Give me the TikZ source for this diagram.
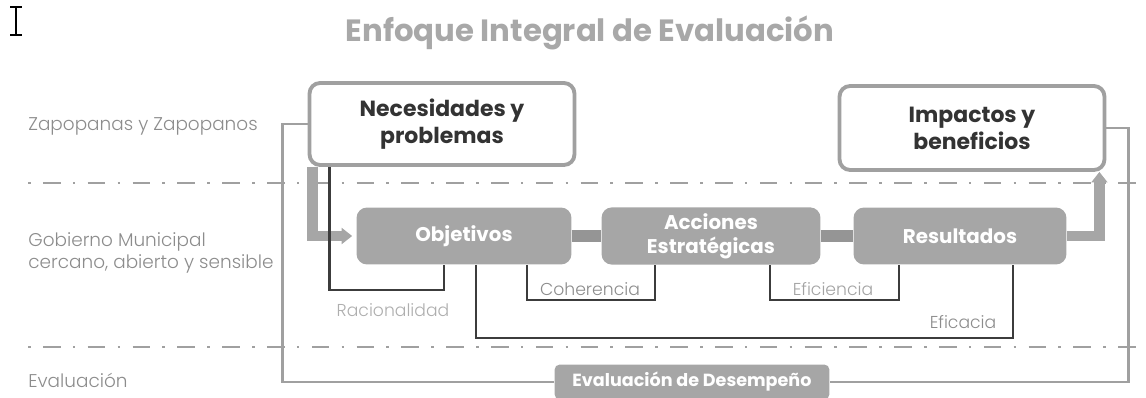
\documentclass[tikz,border=0pt]{standalone}
\usepackage{fontspec}
\setmainfont{Poppins}[UprightFont=* Light,BoldFont=* SemiBold]
\newfontfamily\heavyfont{Poppins}[UprightFont=* Bold]
\usetikzlibrary{calc,arrows.meta}
\definecolor{boxgray}{HTML}{A6A6A6}
\definecolor{linegray}{HTML}{A0A0A0}
\definecolor{darkline}{HTML}{3C3C3C}
\definecolor{textgray}{HTML}{8C8C8C}
\definecolor{titlegray}{HTML}{A8A8A8}
\definecolor{boxtext}{HTML}{333333}
\begin{document}
\begin{tikzpicture}[x=0.02cm,y=-0.02cm,
    whitebox/.style={draw=linegray,line width=2.2pt,fill=white,rounded corners=6pt,align=center,
      font=\fontsize{12.5}{15.5}\heavyfont,text=boxtext},
    graybox/.style={fill=boxgray,rounded corners=6pt,minimum height=1.14cm,align=center,
      font=\fontsize{11.3}{13.8}\heavyfont,text=white},
    sidelabel/.style={anchor=west,align=left,inner sep=0pt,font=\fontsize{10.5}{13}\selectfont,text=textgray},
    critlabel/.style={font=\fontsize{9.8}{11}\selectfont,text=textgray},
    sepline/.style={linegray,line width=1pt,dash pattern=on 1.5pt off 7pt on 10pt off 7pt},
    flow/.style={boxgray,line width=6pt,-{Triangle[width=9pt,length=6pt]}},
    bar/.style={boxgray!90!black,line width=7pt},
    loopline/.style={linegray,line width=1.3pt},
    bracket/.style={darkline,line width=1.5pt}]
  \useasboundingbox (0,0) rectangle (1146,398);

  \draw[line width=1pt] (10,7) -- (22,7) (16,7) -- (16,35) (10,35) -- (22,35);
  \node[font=\fontsize{17.5}{20}\heavyfont,text=titlegray] (title) at (590,33) {Enfoque Integral de Evaluación};

  \draw[sepline] (28,183) -- (1146,183);
  \draw[sepline] (28,347) -- (1146,347);

  \path
    (28,126) node[sidelabel] (zap) {Zapopanas y Zapopanos}
    (28,253) node[sidelabel] (gob) {Gobierno Municipal\\cercano, abierto y sensible}
    (28,380) node[sidelabel] (eva) {Evaluación}
    (442,124) node[whitebox,minimum width=5.3cm,minimum height=1.64cm] (nec) {Necesidades y\\problemas}
    (972,128) node[whitebox,minimum width=5.3cm,minimum height=1.68cm] (imp) {Impactos y\\beneficios}
    (464,236) node[graybox,minimum width=4.3cm] (obj) {Objetivos}
    (711,236) node[graybox,minimum width=4.38cm] (acc) {Acciones\\Estratégicas}
    (960,236) node[graybox,minimum width=4.26cm] (res) {Resultados}
    (692,382) node[graybox,minimum width=5.5cm,minimum height=0.7cm,rounded corners=3pt,
      font=\fontsize{10}{12}\heavyfont] (evd) {Evaluación de Desempeño};

  \draw[loopline] (nec.west) -- ++(-25,0) |- (evd.west);
  \draw[loopline] (imp.east) -- ++(22,0) |- (evd.east);

  \draw[flow] ($(nec.south west)+(5,0)$) |- ($(obj.west)+(-4,0)$);
  \draw[flow] (res.east) -| ($(imp.south east)+(-7,0)$);
  \draw[bar] (obj.east) -- (acc.west);
  \draw[bar] (acc.east) -- (res.west);

  \draw[bracket] ($(nec.south west)+(22,0)$) |- ($(obj.south west)+(88,25)$) -- ($(obj.south west)+(88,0)$);
  \draw[bracket] ($(obj.south east)+(-45,0)$) |- ($(acc.south west)+(54,35)$) -- ($(acc.south west)+(54,0)$);
  \draw[bracket] ($(acc.south east)+(-51,0)$) |- ($(res.south west)+(46,35)$) -- ($(res.south west)+(46,0)$);
  \draw[bracket] ($(obj.south)+(12,0)$) |- ($(res.south east)+(-54,73)$) -- ($(res.south east)+(-54,0)$);

  \node[critlabel,text=textgray!70] (rac) at (393,310) {Racionalidad};
  \node[critlabel] (coh) at (590,289) {Coherencia};
  \node[critlabel,text=textgray!80] (efn) at (833,289) {Eficiencia};
  \node[critlabel] (efc) at (963,322) {Eficacia};
\end{tikzpicture}
\end{document}
